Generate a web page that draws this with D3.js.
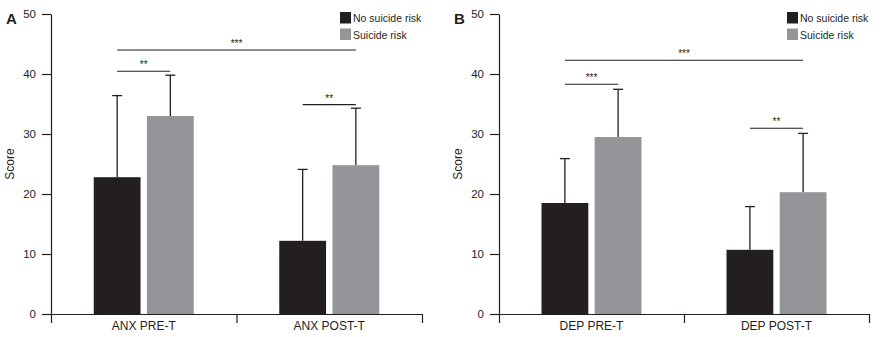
<!DOCTYPE html>
<html>
<head>
<meta charset="utf-8">
<script src="https://cdn.jsdelivr.net/npm/d3@7"></script>
<style>
  body { margin: 0; background: #fff; }
  text { font-family: "Liberation Sans", Arial, sans-serif; fill: #231f20; }
</style>
</head>
<body>
<div id="container"></div>
<script>
/* DATA */
const series = ["No suicide risk", "Suicide risk"];
const yTicks = [0, 10, 20, 30, 40, 50];

const anxCategories = ["ANX PRE-T", "ANX POST-T"];
const anxMeans = [[22.8, 33.0], [12.2, 24.8]];   // [category][series]
const anxUpper = [[36.4, 39.8], [24.1, 34.3]];   // top of error bar
// significance: [fromCat, fromSeries, toCat, toSeries, level, label]
const anxSig = [[0, 0, 0, 1, 40.45, "**"], [0, 0, 1, 1, 44.0, "***"], [1, 0, 1, 1, 34.9, "**"]];

const depCategories = ["DEP PRE-T", "DEP POST-T"];
const depMeans = [[18.5, 29.5], [10.7, 20.3]];
const depUpper = [[25.9, 37.45], [17.9, 30.1]];
const depSig = [[0, 0, 0, 1, 38.3, "***"], [0, 0, 1, 1, 42.3, "***"], [1, 0, 1, 1, 30.95, "**"]];

/* CONSTANTS AND GLOBALS */
const width = 882, height = 337;
const colors = ["#231f20", "#939598"];
const groupWidth = 100;

const svg = d3.select("#container")
  .append("svg")
  .attr("width", width)
  .attr("height", height);

function drawPanel(letter, left, right, categories, means, upper, sig) {
  const g = svg.append("g");

  const yScale = d3.scaleLinear().domain([0, 50]).range([314, 14]);
  const x0 = d3.scaleBand().domain(categories).range([left, right]);
  const x1 = d3.scaleBand().domain(series).range([0, groupWidth]).paddingInner(0.12);
  const xEdge = d3.scaleLinear().domain([0, categories.length]).range([left, right]);

  const barX = (ci, si) => x0(categories[ci]) + (x0.bandwidth() - groupWidth) / 2 + x1(series[si]);
  const barC = (ci, si) => barX(ci, si) + x1.bandwidth() / 2;

  // error bars (upward only), drawn under bars
  categories.forEach((c, ci) => {
    series.forEach((s, si) => {
      const cx = barC(ci, si);
      g.append("line")
        .attr("x1", cx).attr("x2", cx)
        .attr("y1", yScale(means[ci][si])).attr("y2", yScale(upper[ci][si]))
        .attr("stroke", "#231f20").attr("stroke-width", 1.3);
      g.append("line")
        .attr("x1", cx - 5).attr("x2", cx + 5)
        .attr("y1", yScale(upper[ci][si])).attr("y2", yScale(upper[ci][si]))
        .attr("stroke", "#231f20").attr("stroke-width", 1.3);
    });
  });

  // bars
  const rows = [];
  categories.forEach((c, ci) => series.forEach((s, si) => rows.push({ ci, si, v: means[ci][si] })));
  g.selectAll("rect.bar")
    .data(rows)
    .join("rect")
    .attr("class", "bar")
    .attr("x", d => barX(d.ci, d.si))
    .attr("width", x1.bandwidth())
    .attr("y", d => yScale(d.v))
    .attr("height", d => yScale(0) - yScale(d.v))
    .attr("fill", d => colors[d.si]);

  // y axis
  const yAxis = d3.axisLeft(yScale).tickValues(yTicks).tickSize(9).tickSizeOuter(0).tickPadding(6);
  const ya = g.append("g").attr("transform", `translate(${left},0)`).call(yAxis);
  ya.selectAll("text").style("font-size", "11.5px").attr("fill", "#231f20");
  ya.selectAll("line, path").attr("stroke", "#231f20").attr("stroke-width", 1.2);

  // x axis with boundary ticks
  const xAxisEdge = d3.axisBottom(xEdge).tickValues([0, 1, 2]).tickSize(9).tickSizeOuter(0).tickFormat("");
  const xe = g.append("g").attr("transform", `translate(0,${yScale(0)})`).call(xAxisEdge);
  xe.selectAll("line, path").attr("stroke", "#231f20").attr("stroke-width", 1.2);

  const xAxis = d3.axisBottom(x0).tickSize(0).tickPadding(7);
  const xa = g.append("g").attr("transform", `translate(0,${yScale(0)})`).call(xAxis);
  xa.select(".domain").remove();
  xa.selectAll("text").style("font-size", "12px").attr("fill", "#231f20");

  // significance brackets
  sig.forEach(([c1, s1, c2, s2, lvl, lab]) => {
    const xa1 = barC(c1, s1), xa2 = barC(c2, s2), y = yScale(lvl);
    g.append("line")
      .attr("x1", xa1).attr("x2", xa2).attr("y1", y).attr("y2", y)
      .attr("stroke", "#231f20").attr("stroke-width", 1.1);
    g.append("text")
      .attr("x", (xa1 + xa2) / 2).attr("y", y - 3)
      .attr("text-anchor", "middle")
      .style("font-size", "10px")
      .text(lab);
  });

  // axis title
  g.append("text")
    .attr("transform", `translate(${left - 37},${yScale(25)}) rotate(-90)`)
    .attr("text-anchor", "middle")
    .style("font-size", "12px")
    .text("Score");

  // panel letter
  g.append("text")
    .attr("x", left - 45).attr("y", 24)
    .style("font-size", "15px")
    .style("font-weight", "bold")
    .text(letter);

  // legend
  const lx = right - 82;
  series.forEach((s, si) => {
    g.append("rect")
      .attr("x", lx).attr("y", 12 + si * 16.5)
      .attr("width", 11).attr("height", 11.5)
      .attr("fill", colors[si]);
    g.append("text")
      .attr("x", lx + 13).attr("y", 22 + si * 16.5)
      .style("font-size", "10.5px")
      .text(s);
  });
}

drawPanel("A", 51, 422, anxCategories, anxMeans, anxUpper, anxSig);
drawPanel("B", 499, 869, depCategories, depMeans, depUpper, depSig);
</script>
</body>
</html>
